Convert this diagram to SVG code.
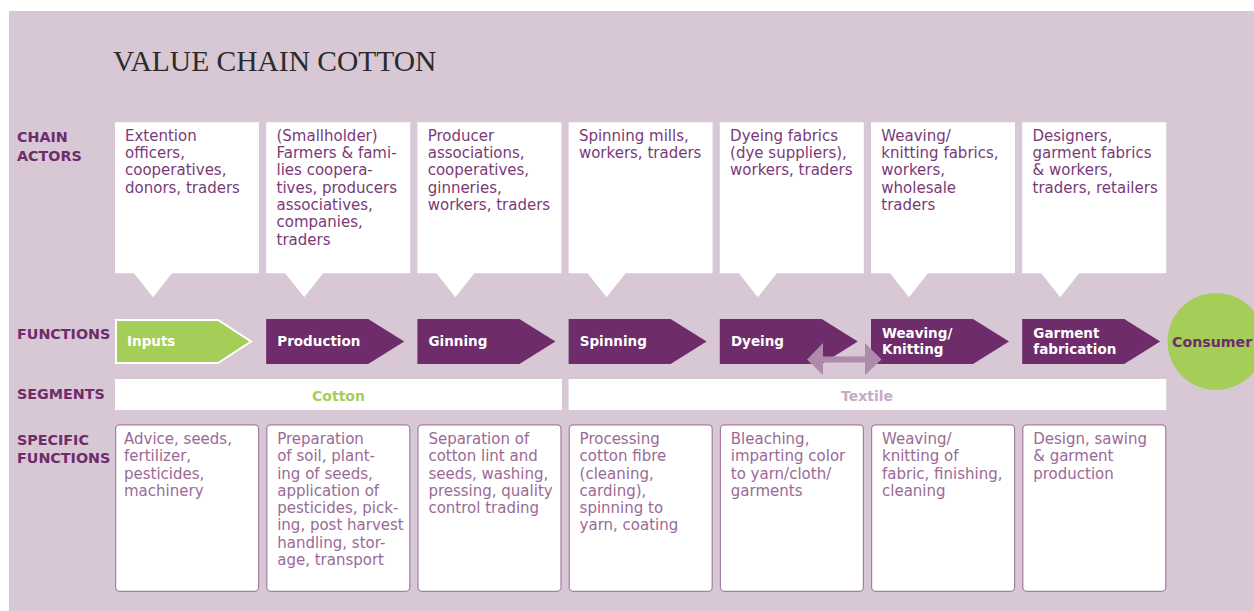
<svg xmlns="http://www.w3.org/2000/svg" width="1254" height="611" viewBox="0 0 1254 611">
<style>
.bg{fill:#d8c7d4}
.title{font-family:"Liberation Serif",serif;font-size:29.5px;fill:#2b2b2b}
.lbl{font-family:"DejaVu Sans",sans-serif;font-weight:bold;font-size:14.3px;fill:#6e2c6b}
.actor{fill:#ffffff}
.atxt{font-family:"DejaVu Sans",sans-serif;font-size:15px;fill:#7a3a78}
.spec{fill:#ffffff;stroke:#a57ea0;stroke-width:1.2}
.stxt{font-family:"DejaVu Sans",sans-serif;font-size:15px;fill:#9a6a95}
.fn{fill:#6e2c6b}
.fnin{fill:#a4ce57;stroke:#ffffff;stroke-width:2}
.ftxt{font-family:"DejaVu Sans",sans-serif;font-weight:bold;font-size:13.5px;fill:#ffffff}
.seg{fill:#ffffff}
.segc{font-family:"DejaVu Sans",sans-serif;font-weight:bold;font-size:14px;fill:#a4ce57}
.segt{font-family:"DejaVu Sans",sans-serif;font-weight:bold;font-size:14px;fill:#c8a9c4}
.dbl{fill:#b08aab}
</style>
<rect class="bg" x="9" y="11" width="1245" height="600"/>
<text class="title" x="113" y="70.5">VALUE CHAIN COTTON</text>

<g id="row-labels">
<text class="lbl" x="17" y="141.5">CHAIN</text>
<text class="lbl" x="17" y="160.5">ACTORS</text>
<text class="lbl" x="17" y="338.5">FUNCTIONS</text>
<text class="lbl" x="17" y="398.5">SEGMENTS</text>
<text class="lbl" x="17" y="445">SPECIFIC</text>
<text class="lbl" x="17" y="462.5">FUNCTIONS</text>
</g>

<!-- Chain actors -->
<g id="actor-1"><path class="actor" d="M115,122.3H259V273.3H172L153,297.3L134,273.3H115Z"/>
<text class="atxt"><tspan x="125" y="140.7">Extention</tspan><tspan x="125" dy="17.3">officers,</tspan><tspan x="125" dy="17.3">cooperatives,</tspan><tspan x="125" dy="17.3">donors, traders</tspan></text></g>
<g id="actor-2"><path class="actor" d="M266.2,122.3H410.2V273.3H323.2L304.2,297.3L285.2,273.3H266.2Z"/>
<text class="atxt"><tspan x="276.5" y="140.7">(Smallholder)</tspan><tspan x="276.5" dy="17.3">Farmers &amp; fami-</tspan><tspan x="276.5" dy="17.3">lies coopera-</tspan><tspan x="276.5" dy="17.3">tives, producers</tspan><tspan x="276.5" dy="17.3">associatives,</tspan><tspan x="276.5" dy="17.3">companies,</tspan><tspan x="276.5" dy="17.3">traders</tspan></text></g>
<g id="actor-3"><path class="actor" d="M417.4,122.3H561.4V273.3H474.4L455.4,297.3L436.4,273.3H417.4Z"/>
<text class="atxt"><tspan x="427.7" y="140.7">Producer</tspan><tspan x="427.7" dy="17.3">associations,</tspan><tspan x="427.7" dy="17.3">cooperatives,</tspan><tspan x="427.7" dy="17.3">ginneries,</tspan><tspan x="427.7" dy="17.3">workers, traders</tspan></text></g>
<g id="actor-4"><path class="actor" d="M568.6,122.3H712.6V273.3H625.6L606.6,297.3L587.6,273.3H568.6Z"/>
<text class="atxt"><tspan x="578.9" y="140.7">Spinning mills,</tspan><tspan x="578.9" dy="17.3">workers, traders</tspan></text></g>
<g id="actor-5"><path class="actor" d="M719.8,122.3H863.8V273.3H776.8L757.8,297.3L738.8,273.3H719.8Z"/>
<text class="atxt"><tspan x="730.1" y="140.7">Dyeing fabrics</tspan><tspan x="730.1" dy="17.3">(dye suppliers),</tspan><tspan x="730.1" dy="17.3">workers, traders</tspan></text></g>
<g id="actor-6"><path class="actor" d="M871,122.3H1015V273.3H928L909,297.3L890,273.3H871Z"/>
<text class="atxt"><tspan x="881.3" y="140.7">Weaving/</tspan><tspan x="881.3" dy="17.3">knitting fabrics,</tspan><tspan x="881.3" dy="17.3">workers,</tspan><tspan x="881.3" dy="17.3">wholesale</tspan><tspan x="881.3" dy="17.3">traders</tspan></text></g>
<g id="actor-7"><path class="actor" d="M1022.2,122.3H1166.2V273.3H1079.2L1060.2,297.3L1041.2,273.3H1022.2Z"/>
<text class="atxt"><tspan x="1032.5" y="140.7">Designers,</tspan><tspan x="1032.5" dy="17.3">garment fabrics</tspan><tspan x="1032.5" dy="17.3">&amp; workers,</tspan><tspan x="1032.5" dy="17.3">traders, retailers</tspan></text></g>

<!-- Functions -->
<g id="fn-inputs"><path class="fnin" d="M116,320H218L251,341.5L218,363H116Z"/>
<text class="ftxt" x="127" y="346">Inputs</text></g>
<g id="fn-production"><path class="fn" d="M266.2,319H368.2L404.2,341.5L368.2,364H266.2Z"/>
<text class="ftxt" x="277.3" y="346">Production</text></g>
<g id="fn-ginning"><path class="fn" d="M417.4,319H519.4L555.4,341.5L519.4,364H417.4Z"/>
<text class="ftxt" x="428.5" y="346">Ginning</text></g>
<g id="fn-spinning"><path class="fn" d="M568.6,319H670.6L706.6,341.5L670.6,364H568.6Z"/>
<text class="ftxt" x="579.7" y="346">Spinning</text></g>
<g id="fn-dyeing"><path class="fn" d="M719.8,319H821.8L857.8,341.5L821.8,364H719.8Z"/>
<text class="ftxt" x="730.9" y="346">Dyeing</text></g>
<g id="fn-weaving"><path class="fn" d="M871,319H973L1009,341.5L973,364H871Z"/>
<text class="ftxt"><tspan x="882" y="338">Weaving/</tspan><tspan x="882" y="354">Knitting</tspan></text></g>
<g id="fn-garment"><path class="fn" d="M1022.2,319H1124.2L1160.2,341.5L1124.2,364H1022.2Z"/>
<text class="ftxt"><tspan x="1033.3" y="338">Garment</tspan><tspan x="1033.3" y="354">fabrication</tspan></text></g>
<g id="consumer"><circle cx="1216" cy="341.5" r="48.5" fill="#a4ce57"/>
<text class="lbl" x="1172" y="346.5" style="font-size:14.2px">Consumer</text></g>

<!-- Segments -->
<g id="seg-cotton"><rect class="seg" x="115" y="379" width="447" height="31"/>
<text class="segc" x="338.5" y="400.5" text-anchor="middle">Cotton</text></g>
<g id="seg-textile"><rect class="seg" x="568.6" y="379" width="597.6" height="31"/>
<text class="segt" x="867" y="400.5" text-anchor="middle">Textile</text></g>

<!-- Specific functions -->
<g id="spec-1"><rect class="spec" x="115.6" y="424.8" width="143" height="166.5" rx="4"/>
<text class="stxt"><tspan x="124" y="444">Advice, seeds,</tspan><tspan x="124" dy="17.25">fertilizer,</tspan><tspan x="124" dy="17.25">pesticides,</tspan><tspan x="124" dy="17.25">machinery</tspan></text></g>
<g id="spec-2"><rect class="spec" x="266.8" y="424.8" width="143" height="166.5" rx="4"/>
<text class="stxt"><tspan x="277.2" y="444">Preparation</tspan><tspan x="277.2" dy="17.25">of soil, plant-</tspan><tspan x="277.2" dy="17.25">ing of seeds,</tspan><tspan x="277.2" dy="17.25">application of</tspan><tspan x="277.2" dy="17.25">pesticides, pick-</tspan><tspan x="277.2" dy="17.25">ing, post harvest</tspan><tspan x="277.2" dy="17.25">handling, stor-</tspan><tspan x="277.2" dy="17.25">age, transport</tspan></text></g>
<g id="spec-3"><rect class="spec" x="418" y="424.8" width="143" height="166.5" rx="4"/>
<text class="stxt"><tspan x="428.4" y="444">Separation of</tspan><tspan x="428.4" dy="17.25">cotton lint and</tspan><tspan x="428.4" dy="17.25">seeds, washing,</tspan><tspan x="428.4" dy="17.25">pressing, quality</tspan><tspan x="428.4" dy="17.25">control trading</tspan></text></g>
<g id="spec-4"><rect class="spec" x="569.2" y="424.8" width="143" height="166.5" rx="4"/>
<text class="stxt"><tspan x="579.6" y="444">Processing</tspan><tspan x="579.6" dy="17.25">cotton fibre</tspan><tspan x="579.6" dy="17.25">(cleaning,</tspan><tspan x="579.6" dy="17.25">carding),</tspan><tspan x="579.6" dy="17.25">spinning to</tspan><tspan x="579.6" dy="17.25">yarn, coating</tspan></text></g>
<g id="spec-5"><rect class="spec" x="720.4" y="424.8" width="143" height="166.5" rx="4"/>
<text class="stxt"><tspan x="730.8" y="444">Bleaching,</tspan><tspan x="730.8" dy="17.25">imparting color</tspan><tspan x="730.8" dy="17.25">to yarn/cloth/</tspan><tspan x="730.8" dy="17.25">garments</tspan></text></g>
<g id="spec-6"><rect class="spec" x="871.6" y="424.8" width="143" height="166.5" rx="4"/>
<text class="stxt"><tspan x="882" y="444">Weaving/</tspan><tspan x="882" dy="17.25">knitting of</tspan><tspan x="882" dy="17.25">fabric, finishing,</tspan><tspan x="882" dy="17.25">cleaning</tspan></text></g>
<g id="spec-7"><rect class="spec" x="1022.8" y="424.8" width="143" height="166.5" rx="4"/>
<text class="stxt"><tspan x="1033.2" y="444">Design, sawing</tspan><tspan x="1033.2" dy="17.25">&amp; garment</tspan><tspan x="1033.2" dy="17.25">production</tspan></text></g>

<g id="connectors">
<path class="dbl" d="M807,359.5L823,343V356.5H865V343L881.5,359.5L865,375V362.5H823V375Z"/>
</g>
</svg>
